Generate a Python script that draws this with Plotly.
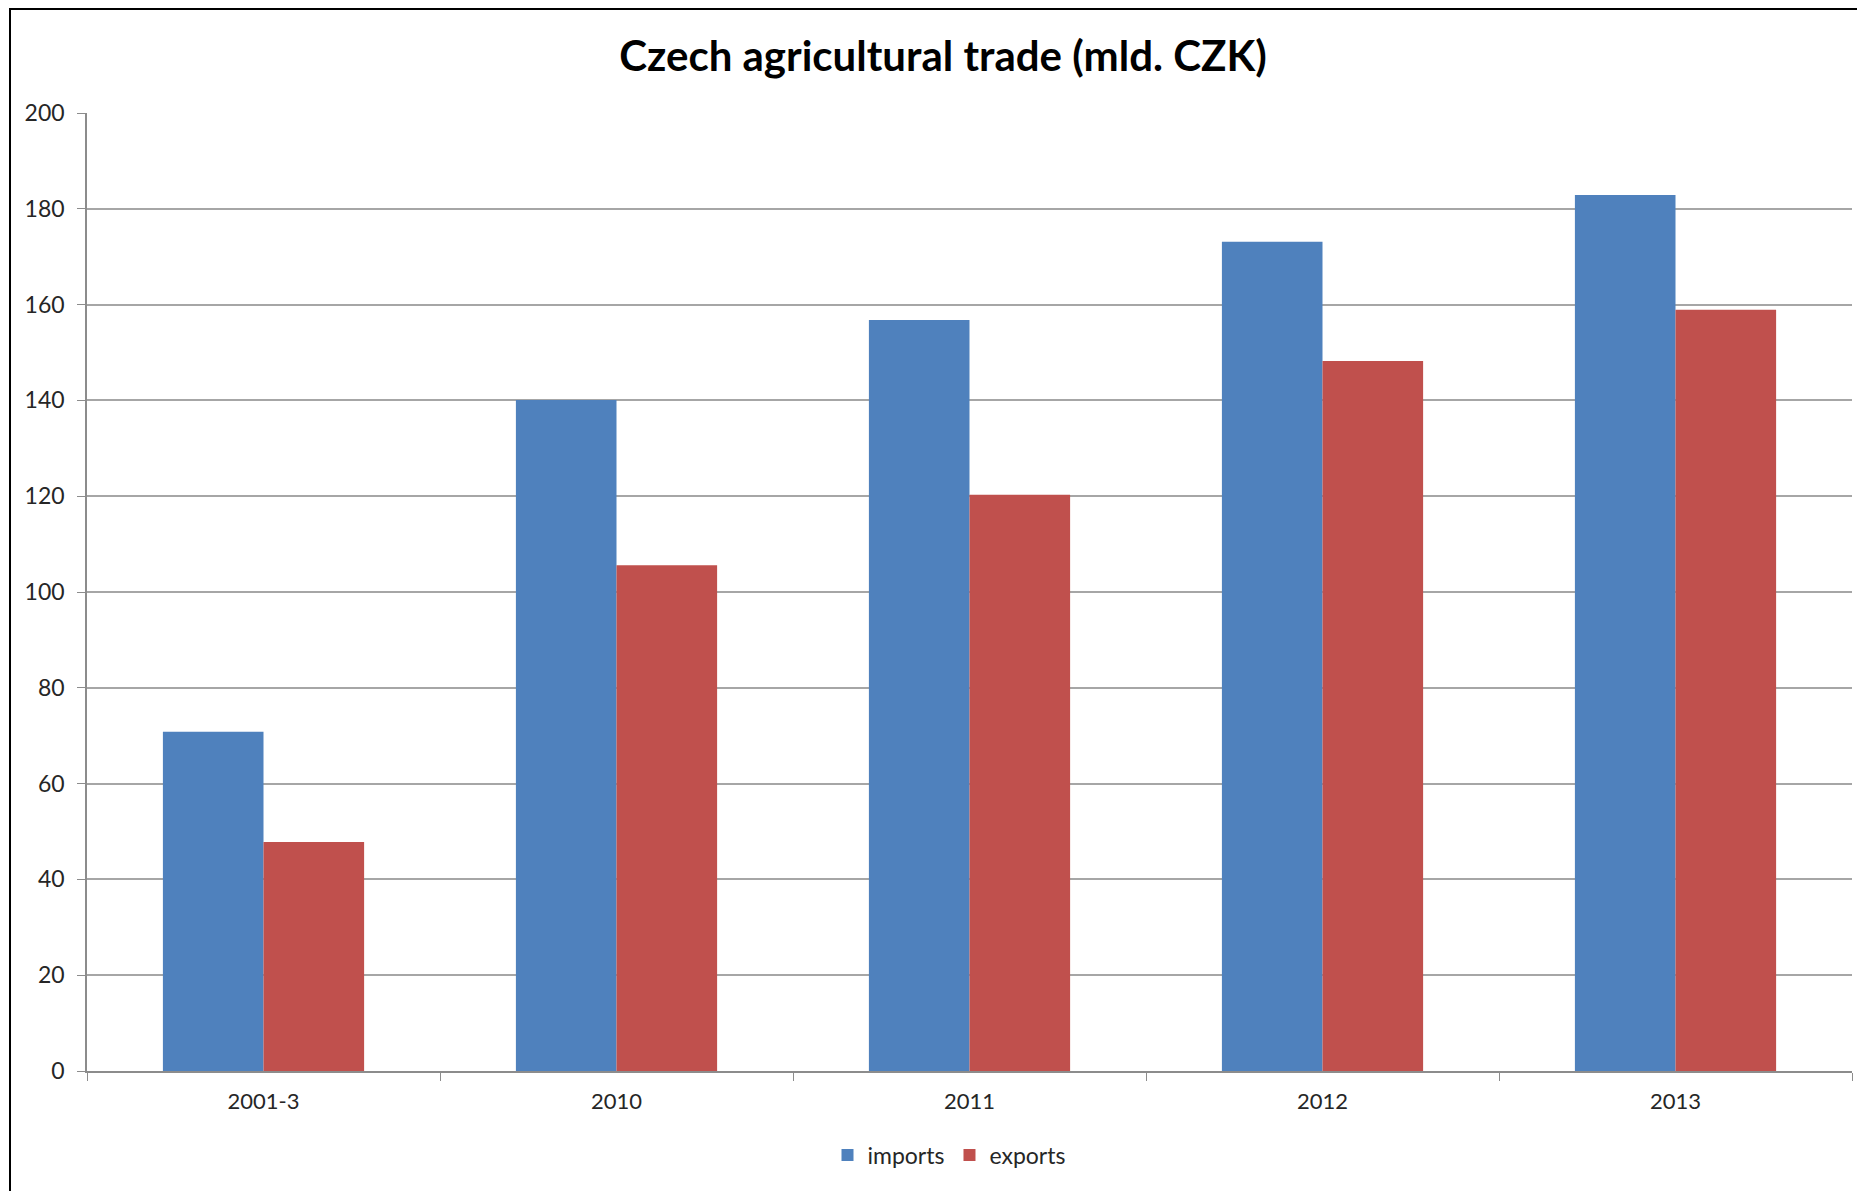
import plotly.graph_objects as go

categories = ["2001-3", "2010", "2011", "2012", "2013"]
imports = [70.8, 140.1, 156.8, 173.1, 182.9]
exports = [47.8, 105.6, 120.3, 148.2, 158.9]
y_ticks = [0, 20, 40, 60, 80, 100, 120, 140, 160, 180, 200]

# page has an 8px body margin, so figure is a bit smaller than the window
W, H = 1857, 1183
L, R, T, B = 79, 13, 105, 120
pw, ph = W - L - R, H - T - B
FONT = "Lato, 'Open Sans', sans-serif"

fig = go.Figure()
fig.add_trace(go.Bar(name="imports", x=categories, y=imports, marker_color="#4F81BD", marker_line_width=0))
fig.add_trace(go.Bar(name="exports", x=categories, y=exports, marker_color="#C0504D", marker_line_width=0))

def px_x(p):
    return (p - L) / pw
def px_y(p):
    return 1 - (p - T) / ph

# outer chart border (left & top visible)
fig.add_shape(type="line", xref="paper", yref="paper", x0=px_x(2), x1=px_x(1900),
              y0=px_y(1), y1=px_y(1), line=dict(color="black", width=2))
fig.add_shape(type="line", xref="paper", yref="paper", x0=px_x(2), x1=px_x(2),
              y0=px_y(0), y1=px_y(1250), line=dict(color="black", width=2))

fig.update_layout(
    width=W, height=H,
    margin=dict(l=L, r=R, t=T, b=B, autoexpand=False),
    paper_bgcolor="white", plot_bgcolor="white",
    barmode="group", bargap=0.43, bargroupgap=0,
    font=dict(family=FONT, size=22, color="#262626"),
    title=dict(text="<b>Czech agricultural trade (mld. CZK)</b>", x=935 / W, xanchor="center",
               y=1 - 48 / H, yanchor="middle", xref="container", yref="container",
               font=dict(family=FONT, size=42, color="black")),
    legend=dict(orientation="h", x=px_x(941), xanchor="center", y=-(1147 - (H - B)) / ph, yanchor="middle",
                font=dict(size=23, color="#262626"), itemwidth=30, traceorder="normal"),
    xaxis=dict(type="category", showgrid=False, showline=True, linecolor="#8c8c8c", linewidth=1.5,
               ticks="outside", tickson="boundaries", ticklen=8, tickcolor="#8c8c8c",
               ticklabelstandoff=10, tickfont=dict(size=22)),
    yaxis=dict(range=[0, 200], tickvals=y_ticks, showgrid=True, gridcolor="#a6a6a6", gridwidth=1.5,
               showline=True, linecolor="#8c8c8c", linewidth=1.5, ticks="outside", ticklen=8,
               tickcolor="#8c8c8c", ticklabelstandoff=8, zeroline=False, tickfont=dict(size=23)),
)

fig.write_html("out.html")
